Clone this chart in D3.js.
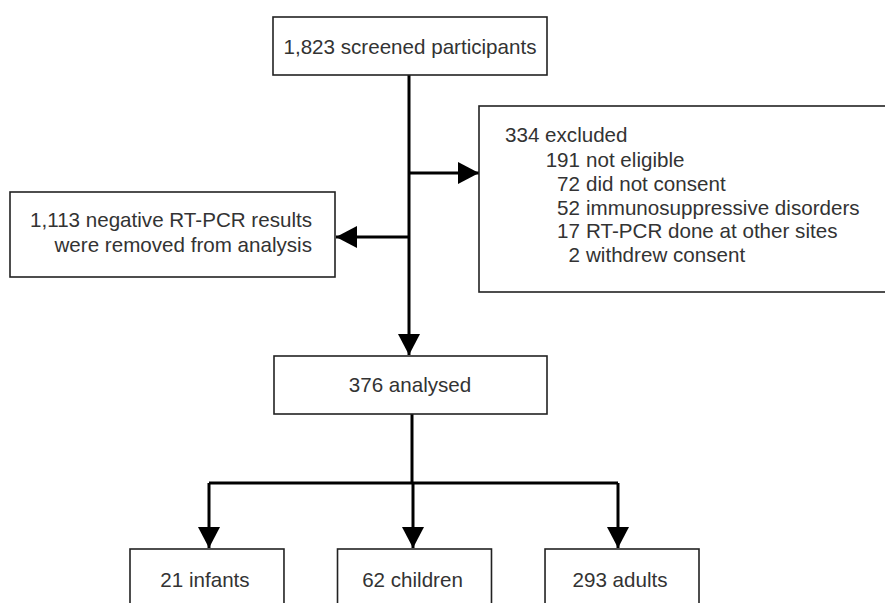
<!DOCTYPE html>
<html>
<head>
<meta charset="utf-8">
<script src="https://cdn.jsdelivr.net/npm/d3@7"></script>
<style>
  body { margin: 0; background: #fff; }
  text { font-family: "Liberation Sans", Arial, sans-serif; font-size: 20.6px; fill: #333; }
</style>
</head>
<body>
<div id="flow_area"></div>
<script>
// flow values
var flowLabels = ["screened participants", "excluded", "negative RT-PCR results", "analysed"];
var flowCounts = [1823, 334, 1113, 376];

var exclusionReasons = ["not eligible", "did not consent", "immunosuppressive disorders",
    "RT-PCR done at other sites", "withdrew consent"];
var exclusionCounts = [191, 72, 52, 17, 2];

var groupLabels = ["infants", "children", "adults"];
var groupCounts = [21, 62, 293];

var width = 885;
var height = 603;
var fmt = d3.format(",");

var svG = d3.select("#flow_area")
    .append("svg")
    .attr("width", width)
    .attr("height", height);

// arrow head
svG.append("defs").append("marker")
    .attr("id", "arrow")
    .attr("markerUnits", "userSpaceOnUse")
    .attr("viewBox", "0 0 21 22")
    .attr("refX", 21)
    .attr("refY", 11)
    .attr("markerWidth", 21)
    .attr("markerHeight", 22)
    .attr("orient", "auto")
    .append("path")
    .attr("d", "M0,0L21,11L0,22Z")
    .attr("fill", "#000");

var mainX = 409;

var box = function(parent, x, y, w, h) {
    parent.append("rect")
        .attr("x", x).attr("y", y)
        .attr("width", w).attr("height", h)
        .attr("fill", "#fff")
        .attr("stroke", "#222")
        .attr("stroke-width", 1.6);
};

var connector = function(points, arrow) {
    svG.append("path")
        .attr("d", d3.line()(points))
        .attr("fill", "none")
        .attr("stroke", "#000")
        .attr("stroke-width", 3)
        .attr("marker-end", arrow ? "url(#arrow)" : null);
};

// connectors first
connector([[mainX, 75], [mainX, 355]], true);
connector([[mainX, 173], [479, 173]], true);
connector([[mainX, 237], [336, 237]], true);

// bottom group positions
var xGroup = d3.scaleBand()
    .domain(groupLabels)
    .range([130, 699])
    .paddingInner(0.258)
    .paddingOuter(0);

connector([[412, 414], [412, 483]], false);
connector([[209, 483], [618, 483]], false);
[209, 413, 618].forEach(function(cx) {
    connector([[cx, 483], [cx, 548]], true);
});

// top box
box(svG, 273, 17, 274, 58);
svG.append("text")
    .attr("x", 410).attr("y", 54)
    .attr("text-anchor", "middle")
    .text(fmt(flowCounts[0]) + " " + flowLabels[0]);

// excluded box
box(svG, 479, 106, 420, 186);
svG.append("text")
    .attr("x", 505).attr("y", 142)
    .text(fmt(flowCounts[1]) + " " + flowLabels[1]);

var yRow = d3.scaleLinear()
    .domain([0, exclusionReasons.length - 1])
    .range([167, 262]);

var rows = svG.selectAll("g.reason")
    .data(exclusionReasons)
    .enter()
    .append("g")
    .attr("class", "reason");
rows.append("text")
    .attr("x", 580)
    .attr("y", function(d, i) { return yRow(i); })
    .attr("text-anchor", "end")
    .text(function(d, i) { return exclusionCounts[i]; });
rows.append("text")
    .attr("x", 586)
    .attr("y", function(d, i) { return yRow(i); })
    .text(function(d) { return d; });

// negative box
box(svG, 10, 192, 325, 85);
svG.append("text")
    .attr("x", 312).attr("y", 227)
    .attr("text-anchor", "end")
    .text(fmt(flowCounts[2]) + " " + flowLabels[2]);
svG.append("text")
    .attr("x", 312).attr("y", 252)
    .attr("text-anchor", "end")
    .text("were removed from analysis");

// analysed box
box(svG, 274, 356, 273, 58);
svG.append("text")
    .attr("x", 410).attr("y", 392)
    .attr("text-anchor", "middle")
    .text(flowCounts[3] + " " + flowLabels[3]);

// group boxes
var groups = svG.selectAll("g.group")
    .data(groupLabels)
    .enter()
    .append("g")
    .attr("class", "group");
groups.each(function(d) {
    box(d3.select(this), xGroup(d), 549, xGroup.bandwidth(), 80);
});
groups.append("text")
    .attr("x", function(d) { return xGroup(d) + xGroup.bandwidth() / 2 - 2; })
    .attr("y", 587)
    .attr("text-anchor", "middle")
    .text(function(d, i) { return groupCounts[i] + " " + d; });
</script>
</body>
</html>
